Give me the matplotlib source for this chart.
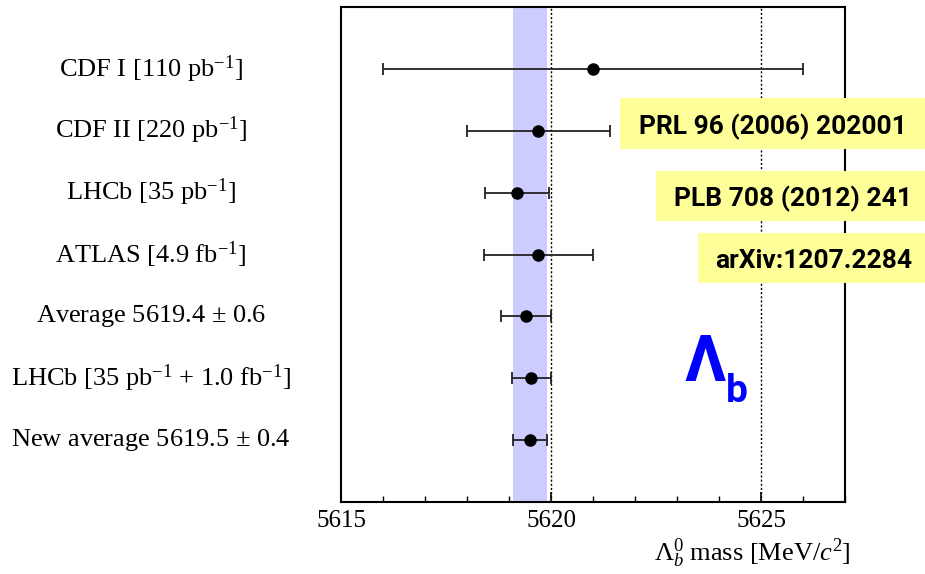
import matplotlib
matplotlib.use("Agg")
import matplotlib.pyplot as plt
from matplotlib.patches import Rectangle
from matplotlib.transforms import blended_transform_factory
from matplotlib.ticker import MultipleLocator

plt.rcParams["mathtext.fontset"] = "custom"
plt.rcParams["mathtext.rm"] = "Liberation Serif"
plt.rcParams["mathtext.it"] = "Liberation Serif:italic"
plt.rcParams["mathtext.bf"] = "Liberation Serif:bold"

# Lambda_b mass measurements (MeV/c^2), top to bottom
labels = [
    r"CDF I [110 pb$^{-1}$]",
    r"CDF II [220 pb$^{-1}$]",
    r"LHCb [35 pb$^{-1}$]",
    r"ATLAS [4.9 fb$^{-1}$]",
    r"Average 5619.4 $\pm$ 0.6",
    r"LHCb [35 pb$^{-1}$ + 1.0 fb$^{-1}$]",
    r"New average 5619.5 $\pm$ 0.4",
]
masses = [5621.0, 5619.7, 5619.19, 5619.7, 5619.4, 5619.53, 5619.5]
errors = [5.0, 1.7, 0.76, 1.3, 0.6, 0.47, 0.4]

references = ["PRL 96 (2006) 202001", "PLB 708 (2012) 241", "arXiv:1207.2284"]

W, H = 925, 574
fig = plt.figure(figsize=(W / 100, H / 100), dpi=100)
ax = fig.add_axes([341 / W, 1 - 502 / H, (845 - 341) / W, (502 - 7) / H])

n = len(masses)
ypos = list(range(n, 0, -1))

# band for the new world average
new_avg, new_err = masses[-1], errors[-1]
ax.axvspan(new_avg - new_err, new_avg + new_err, color="#ccccff", lw=0, zorder=0)

for xv in (5620, 5625):
    ax.axvline(xv, color="black", ls=(0, (1.5, 1.5)), lw=1.0, zorder=1)

ax.errorbar(masses, ypos, xerr=errors, fmt="o", color="black", ecolor="#222222",
            ms=8, elinewidth=1.3, capsize=4.5, capthick=1.3, zorder=3)

ax.set_xlim(5615, 5627)
ax.set_ylim(0, n + 1)
ax.xaxis.set_major_locator(MultipleLocator(5))
ax.xaxis.set_minor_locator(MultipleLocator(1))
ax.tick_params(axis="x", which="both", direction="in", top=False, bottom=True,
               labelsize=18, pad=6)
ax.tick_params(axis="x", which="major", length=7, width=1.2)
ax.tick_params(axis="x", which="minor", length=4, width=1.0)
ax.tick_params(axis="y", left=False, right=False, labelleft=False)
for lbl in ax.get_xticklabels():
    lbl.set_fontfamily("Liberation Serif")
for sp in ax.spines.values():
    sp.set_linewidth(1.5)

trans = blended_transform_factory(fig.transFigure, ax.transData)
for y, lab in zip(ypos, labels):
    ax.text(151 / W, y, lab, transform=trans, ha="center", va="center",
            fontsize=19, family="Liberation Serif")

fig.text(851 / W, 1 - 553 / H, r"$\Lambda_b^0$ mass [MeV/$c^2$]", ha="right",
         va="center", fontsize=19, family="Liberation Serif")

# reference boxes
boxes = [(620, 98, 149, 907), (656, 171, 221, 912), (698, 233, 283, 912)]
for (x0, y0, y1, xr), ref in zip(boxes, references):
    fig.patches.append(Rectangle((x0 / W, 1 - y1 / H), (W - x0) / W, (y1 - y0) / H,
                                 transform=fig.transFigure, facecolor="#ffff99",
                                 edgecolor="none", zorder=5))
    fig.text(xr / W, 1 - (y0 + y1) / 2 / H, ref, ha="right", va="center_baseline",
             fontsize=19, family="Roboto", weight="bold", color="black", zorder=6)

fig.text(684 / W, 1 - 381 / H, "Λ", ha="left", va="baseline", fontsize=46,
         family="Roboto", weight="bold", color="#0000ff")
fig.text(726 / W, 1 - 402 / H, "b", ha="left", va="baseline", fontsize=28,
         family="Roboto", weight="bold", color="#0000ff")

fig.savefig("out.png", dpi=100)
